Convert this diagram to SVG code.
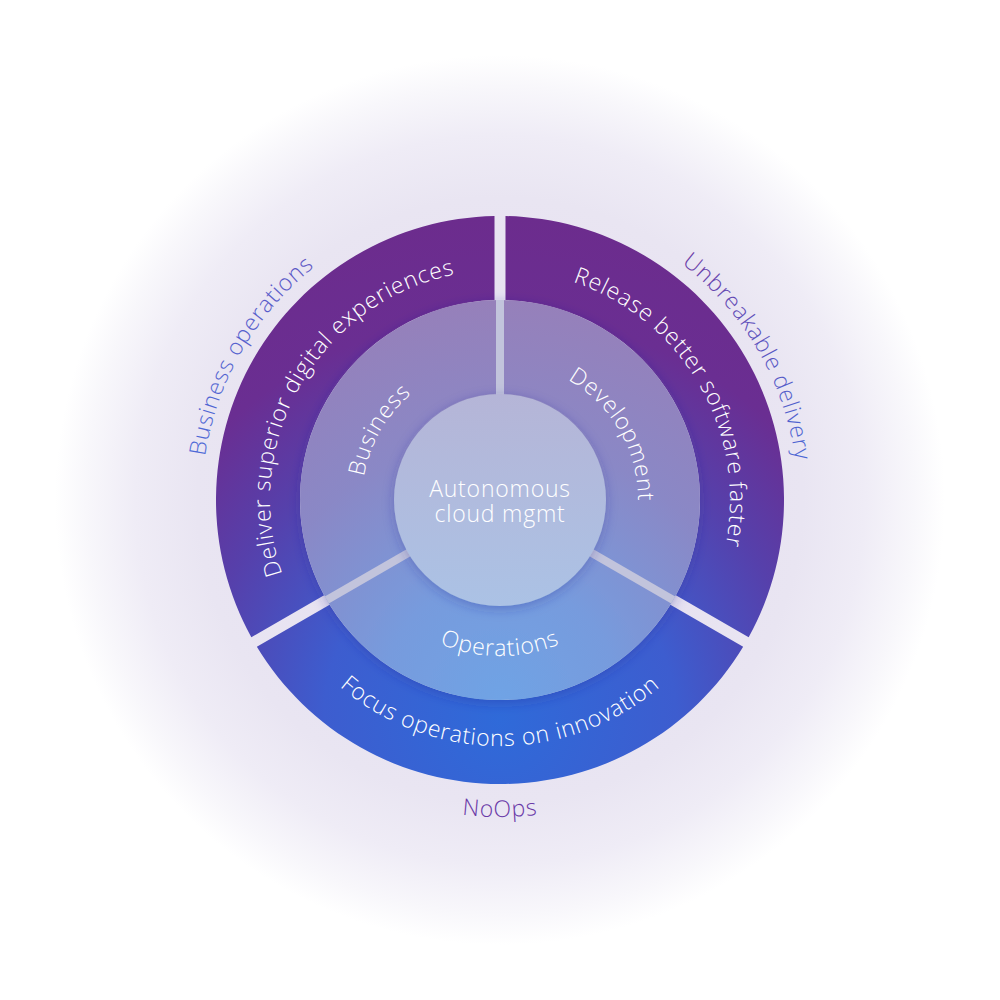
<svg xmlns="http://www.w3.org/2000/svg" width="1000" height="1000" viewBox="0 0 1000 1000">
  <defs>
    <style>
      .t { font-family: 'Open Sans', 'Noto Sans', sans-serif; font-weight: 300; font-size: 23px; letter-spacing: 0.8px; fill: #ffffff; }
      .lbl { font-family: 'Open Sans', 'Noto Sans', sans-serif; font-weight: 300; font-size: 23px; letter-spacing: 0.8px; }
      .bar { stroke: #c2c4dc; stroke-width: 8; }
    </style>
    <radialGradient id="glow" cx="500" cy="500" r="445" gradientUnits="userSpaceOnUse">
      <stop offset="0" stop-color="#e3dcee"/>
      <stop offset="0.68" stop-color="#e9e5f2"/>
      <stop offset="0.82" stop-color="#efecf6"/>
      <stop offset="0.93" stop-color="#f8f7fb"/>
      <stop offset="1" stop-color="#ffffff"/>
    </radialGradient>
    <radialGradient id="outerG" cx="500" cy="720" r="504" gradientUnits="userSpaceOnUse">
      <stop offset="0" stop-color="#2f6ad9"/>
      <stop offset="0.35" stop-color="#3d5dcf"/>
      <stop offset="0.6" stop-color="#5640ab"/>
      <stop offset="0.8" stop-color="#6a2e92"/>
      <stop offset="1" stop-color="#6c2c8d"/>
    </radialGradient>
    <radialGradient id="midG" cx="500" cy="700" r="400" gradientUnits="userSpaceOnUse">
      <stop offset="0" stop-color="#6fa3e5"/>
      <stop offset="0.3" stop-color="#779bdd"/>
      <stop offset="0.65" stop-color="#8a88c6"/>
      <stop offset="1" stop-color="#9680ba"/>
    </radialGradient>
    <linearGradient id="innerG" x1="0" y1="394" x2="0" y2="606" gradientUnits="userSpaceOnUse">
      <stop offset="0" stop-color="#b5b5d7"/>
      <stop offset="1" stop-color="#abc2e5"/>
    </linearGradient>
    <linearGradient id="bizG" x1="0" y1="1" x2="1" y2="0">
      <stop offset="0" stop-color="#4c6ad8"/>
      <stop offset="1" stop-color="#5e54c2"/>
    </linearGradient>
    <linearGradient id="unbG" x1="0" y1="0" x2="1" y2="1">
      <stop offset="0" stop-color="#6b38a2"/>
      <stop offset="1" stop-color="#4a6ad8"/>
    </linearGradient>
    <filter id="shadow" x="-20%" y="-20%" width="140%" height="140%">
      <feDropShadow dx="0" dy="3" stdDeviation="6" flood-color="#2a2f9a" flood-opacity="0.32"/>
    </filter>
    <path id="pOA" d="M 352.16 676.19 A 230 230 0 0 1 578.66 283.87"/>
    <path id="pOB" d="M 421.34 283.87 A 230 230 0 0 1 647.84 676.19"/>
    <path id="pOC" d="M 257.74 542.72 A 246 246 0 0 0 742.26 542.72"/>
    <path id="pMA" d="M 411.29 605.71 A 138 138 0 0 1 547.20 370.32"/>
    <path id="pMB" d="M 452.80 370.32 A 138 138 0 0 1 588.71 605.71"/>
    <path id="pMC" d="M 346.37 527.09 A 156 156 0 0 0 653.63 527.09"/>
    <path id="pLA" d="M 308.45 728.28 A 298 298 0 0 1 601.92 219.97"/>
    <path id="pLB" d="M 398.08 219.97 A 298 298 0 0 1 691.55 728.28"/>
    <path id="pLC" d="M 187.82 555.05 A 317 317 0 0 0 812.18 555.05"/>
  </defs>

  <rect id="background" x="0" y="0" width="1000" height="1000" fill="#ffffff"/>
  <circle id="glow-halo" cx="500" cy="500" r="445" fill="url(#glow)"/>

  <g id="outer-ring" fill="url(#outerG)">
    <g id="seg-business">
      <path d="M 251.35 637.21 A 284 284 0 0 1 494.5 216.05 L 494.5 300.08 A 200 200 0 0 0 324.11 595.20 Z"/>
      <text class="t"><textPath href="#pOA" startOffset="50%" text-anchor="middle">Deliver superior digital experiences</textPath></text>
    </g>
    <g id="seg-development">
      <path d="M 505.5 216.05 A 284 284 0 0 1 748.66 637.21 L 675.89 595.20 A 200 200 0 0 0 505.5 300.08 Z"/>
      <text class="t"><textPath href="#pOB" startOffset="50%" text-anchor="middle">Release better software faster</textPath></text>
    </g>
    <g id="seg-operations">
      <path d="M 743.16 646.73 A 284 284 0 0 1 256.85 646.73 L 329.61 604.72 A 200 200 0 0 0 670.39 604.72 Z"/>
      <text class="t"><textPath href="#pOC" startOffset="50%" text-anchor="middle">Focus operations on innovation</textPath></text>
    </g>
  </g>

  <g id="middle-ring">
    <circle cx="500" cy="500" r="200" fill="url(#midG)" filter="url(#shadow)"/>
  </g>

  <g id="connectors">
    <line class="bar" x1="500" y1="300" x2="500" y2="396"/>
    <line class="bar" x1="590.1" y1="552" x2="673.2" y2="600"/>
    <line class="bar" x1="409.9" y1="552" x2="326.8" y2="600"/>
  </g>

  <g id="middle-labels">
    <text class="t"><textPath href="#pMA" startOffset="50%" text-anchor="middle">Business</textPath></text>
    <text class="t"><textPath href="#pMB" startOffset="50%" text-anchor="middle">Development</textPath></text>
    <text class="t"><textPath href="#pMC" startOffset="50%" text-anchor="middle">Operations</textPath></text>
  </g>

  <g id="center">
    <circle cx="500" cy="500" r="106" fill="url(#innerG)" filter="url(#shadow)"/>
    <text class="t" x="500" y="497" text-anchor="middle">Autonomous</text>
    <text class="t" x="500" y="522" text-anchor="middle">cloud mgmt</text>
  </g>

  <g id="outer-labels">
    <text class="lbl" fill="url(#bizG)"><textPath href="#pLA" startOffset="50%" text-anchor="middle">Business operations</textPath></text>
    <text class="lbl" fill="url(#unbG)"><textPath href="#pLB" startOffset="50%" text-anchor="middle">Unbreakable delivery</textPath></text>
    <text class="lbl" fill="#6a3aa8"><textPath href="#pLC" startOffset="50%" text-anchor="middle">NoOps</textPath></text>
  </g>
</svg>
